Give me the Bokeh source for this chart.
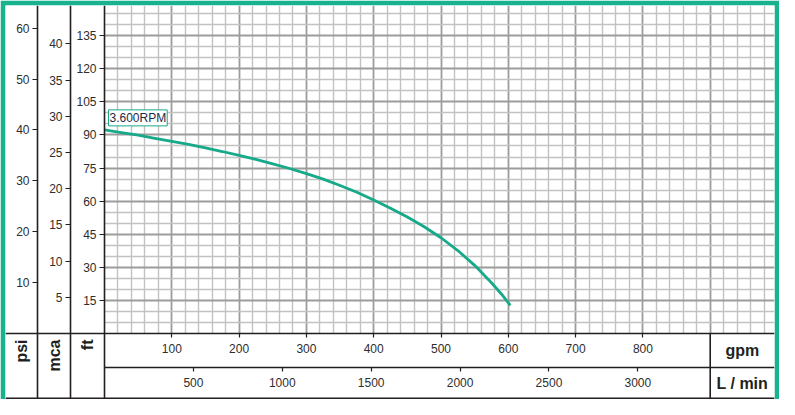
import math
from bokeh.plotting import figure
from bokeh.models import Range1d, LinearAxis, FixedTicker, Grid, Label
from bokeh.core.properties import value
from bokeh.embed import file_html
from bokeh.resources import INLINE

# ---------------- data ----------------
flow_gpm = [0, 25, 50, 75, 100, 125, 150, 175, 200, 225, 250, 275, 300,
            325, 350, 375, 400, 425, 450, 475, 500, 525, 550, 575, 590, 603]
head_ft = [92.3, 91.1, 89.9, 88.5, 87.1, 85.7, 84.1, 82.5, 80.7, 78.9, 76.9, 74.8, 72.5,
           70.0, 67.1, 64.0, 60.5, 56.8, 52.8, 48.4, 43.4, 37.6, 30.9, 23.0, 17.8, 12.7]
curve_label = "3.600RPM"

gpm_ticks = [100, 200, 300, 400, 500, 600, 700, 800]
lmin_ticks = [500, 1000, 1500, 2000, 2500, 3000]
ft_ticks = [15, 30, 45, 60, 75, 90, 105, 120, 135]
mca_ticks = [5, 10, 15, 20, 25, 30, 35, 40]
psi_ticks = [10, 20, 30, 40, 50, 60]
left_units = ["psi", "mca", "ft"]
right_units = ["gpm", "L / min"]
gpm_grid_major = [100, 200, 300, 400, 500, 600, 700, 800, 900]
gpm_grid_minor = [g for g in range(20, 1000, 20) if g % 100]
ft_grid_major = [15, 30, 45, 60, 75, 90, 105, 120, 135]
ft_grid_minor = [f for f in range(5, 150, 5) if f % 15]
table_split_gpm = 900

GPM_TO_LMIN = 3.78541
M_TO_FT = 3.28084
PSI_TO_FT = 2.30666

# ---------------- layout ----------------
W, H = 779, 399
BORDER = 5
FRAME_W = W - 2 * BORDER
FRAME_H = H - BORDER
GRID_LEFT = 99      # px from frame left: gpm = 0 / ft axis
COL_MCA = 65        # px from frame left: mca axis
COL_PSI = 32        # px from frame left: psi axis
GRID_H = 328        # px from frame top: ft = 0
ROW1 = 34           # height of gpm row
PX_PER_GPM = 0.673
PX_PER_FT = 2.206

def gx(px):
    return (px - GRID_LEFT) / PX_PER_GPM

def fy(py):
    return (GRID_H - py) / PX_PER_FT

x_start, x_end = gx(0), gx(FRAME_W)
y_start, y_end = fy(FRAME_H), fy(0)

TEAL = "#17b28e"
CURVE = "#16a98a"
DARK = "#231f20"
TXT = "#2e2e2e"
MAJOR = "#9c9c9c"
MINOR = "#c2c2c2"
FONT = "Liberation Sans"

p = figure(width=W, height=H,
           x_range=Range1d(x_start, x_end), y_range=Range1d(y_start, y_end),
           x_axis_type=None, y_axis_type=None,
           output_backend="svg", toolbar_location=None,
           min_border_left=BORDER, min_border_right=BORDER,
           min_border_top=BORDER, min_border_bottom=0,
           border_fill_color=TEAL, background_fill_color="white",
           outline_line_color=None)

p.extra_y_ranges = {"mca": Range1d(y_start / M_TO_FT, y_end / M_TO_FT),
                    "psi": Range1d(y_start / PSI_TO_FT, y_end / PSI_TO_FT)}
p.extra_x_ranges = {"lmin": Range1d(x_start * GPM_TO_LMIN, x_end * GPM_TO_LMIN)}

# grids
vgrid = Grid(dimension=0,
             ticker=FixedTicker(ticks=gpm_grid_major, minor_ticks=gpm_grid_minor),
             grid_line_color=MAJOR, grid_line_width=1.8,
             minor_grid_line_color=MINOR, minor_grid_line_width=1.4,
             bounds=(0, x_end), cross_bounds=(0, y_end))
hgrid = Grid(dimension=1,
             ticker=FixedTicker(ticks=ft_grid_major, minor_ticks=ft_grid_minor),
             grid_line_color=MAJOR, grid_line_width=1.8,
             minor_grid_line_color=MINOR, minor_grid_line_width=1.4,
             bounds=(0, y_end), cross_bounds=(0, x_end))
p.add_layout(vgrid)
p.add_layout(hgrid)

def style(ax, tick_out, standoff):
    ax.axis_line_color = DARK
    ax.axis_line_width = 1.6
    ax.major_tick_line_color = DARK
    ax.major_tick_line_width = 1.2
    ax.major_tick_out = tick_out
    ax.major_tick_in = 0
    ax.minor_tick_line_color = None
    ax.major_label_standoff = standoff
    ax.major_label_text_font = FONT
    ax.major_label_text_font_size = "12px"
    ax.major_label_text_color = TXT

ft_axis = LinearAxis(ticker=FixedTicker(ticks=ft_ticks), fixed_location=0)
mca_axis = LinearAxis(y_range_name="mca", ticker=FixedTicker(ticks=mca_ticks), fixed_location=gx(COL_MCA))
psi_axis = LinearAxis(y_range_name="psi", ticker=FixedTicker(ticks=psi_ticks), fixed_location=gx(COL_PSI))
for ax in (ft_axis, mca_axis, psi_axis):
    style(ax, 5, 3)
    p.add_layout(ax, "left")

gpm_axis = LinearAxis(ticker=FixedTicker(ticks=gpm_ticks), fixed_location=0)
style(gpm_axis, 4, 6)
p.add_layout(gpm_axis, "below")
lmin_axis = LinearAxis(x_range_name="lmin", ticker=FixedTicker(ticks=lmin_ticks),
                       fixed_location=fy(GRID_H + ROW1),
                       bounds=(0, x_end * GPM_TO_LMIN))
style(lmin_axis, 4, 6)
p.add_layout(lmin_axis, "below")

# table lines
p.segment(x0=[table_split_gpm, x_start], y0=[0, fy(FRAME_H - 1)],
          x1=[table_split_gpm, x_end], y1=[y_start, fy(FRAME_H - 1)],
          line_color=DARK, line_width=[1.6, 2.0])

# unit labels
col_centers = [gx(COL_PSI / 2), gx((COL_PSI + COL_MCA) / 2), gx((COL_MCA + GRID_LEFT) / 2)]
p.text(x=col_centers, y=[fy(GRID_H + 6)] * 3, text=left_units, angle=math.pi / 2,
       text_align="right", text_baseline="middle", text_font=value(FONT),
       text_font_style="bold", text_font_size="16px", text_color=DARK)
right_center = (table_split_gpm + x_end) / 2
p.text(x=[right_center] * 2, y=[fy(GRID_H + ROW1 / 2), fy((GRID_H + ROW1 + FRAME_H) / 2)],
       text=right_units, text_align="center", text_baseline="middle",
       text_font=value(FONT), text_font_style="bold", text_font_size="16px", text_color=DARK)

# curve
p.line(flow_gpm, head_ft, line_color=CURVE, line_width=2.8, line_join="round")
p.add_layout(Label(x=flow_gpm[0], y=head_ft[0], x_offset=4, y_offset=4, text=curve_label,
                   text_font=FONT, text_font_size="12px", text_color="#1f2a44",
                   background_fill_color="white", border_line_color=CURVE,
                   border_line_width=1, padding=1))

open("out.html", "w").write(file_html(p, INLINE))
